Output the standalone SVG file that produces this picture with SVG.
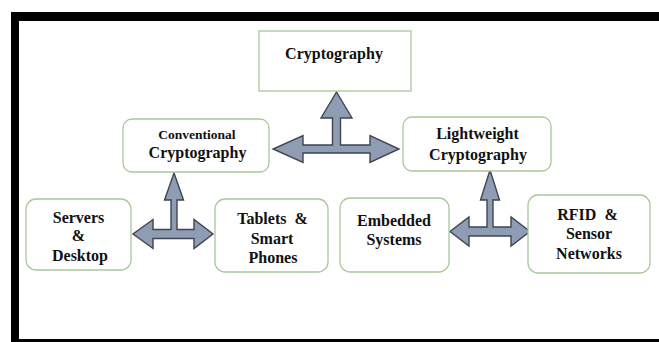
<svg xmlns="http://www.w3.org/2000/svg" width="659" height="342" viewBox="0 0 659 342">
  <style>
    .box { fill: #ffffff; stroke: #a9c79b; stroke-width: 1.3; }
    .lbl { font-family: 'Liberation Serif', 'DejaVu Serif', serif; font-weight: 700; font-size: 16px; fill: #111111; text-anchor: middle; }
    .small { font-size: 13.5px; }
    .arrow { fill: #8e9cb4; stroke: #3f4450; stroke-width: 1.4; stroke-linejoin: miter; }
  </style>

  <!-- page background and black frame -->
  <rect x="0" y="0" width="659" height="342" fill="#ffffff"/>
  <rect x="11" y="12" width="648" height="9" fill="#000000"/>
  <rect x="11" y="12" width="8" height="330" fill="#000000"/>
  <rect x="11" y="339" width="648" height="3" fill="#000000"/>

  <!-- connectors: three-way block arrows -->
  <g id="connectors">
    <path class="arrow" d="M336.5,92 L352,118 L340.5,118 L340.5,145 L370,145 L370,135.5 L399,149 L370,162.5 L370,153 L303,153 L303,162.5 L273,149 L303,135.5 L303,145 L332.5,145 L332.5,118 L321,118 Z"/>
    <path class="arrow" d="M174,173 L183.5,200 L177,200 L177,229.5 L194,229.5 L194,219.5 L213,234 L194,248.5 L194,238.5 L153,238.5 L153,248.5 L133,234 L153,219.5 L153,229.5 L171,229.5 L171,200 L164.5,200 Z"/>
    <path class="arrow" d="M490,170 L499.5,200 L493,200 L493,227 L511,227 L511,217 L530,231.5 L511,246 L511,236 L469,236 L469,246 L450,231.5 L469,217 L469,227 L487,227 L487,200 L480.5,200 Z"/>
  </g>

  <g id="cryptography">
    <rect class="box" x="259" y="31" width="152" height="60"/>
    <text class="lbl" x="334" y="59" font-family="Liberation Serif, serif">Cryptography</text>
  </g>

  <g id="conventional">
    <rect class="box" x="123" y="119" width="146" height="53" rx="9"/>
    <text class="lbl small" x="197" y="139">Conventional</text>
    <text class="lbl" x="197.5" y="157.5">Cryptography</text>
  </g>

  <g id="lightweight">
    <rect class="box" x="403" y="117" width="148" height="54" rx="9"/>
    <text class="lbl" x="477.5" y="139">Lightweight</text>
    <text class="lbl" x="478" y="160">Cryptography</text>
  </g>

  <g id="servers">
    <rect class="box" x="26" y="199" width="105" height="71" rx="10"/>
    <text class="lbl" x="78.5" y="222.5">Servers</text>
    <text class="lbl" x="78.5" y="241">&amp;</text>
    <text class="lbl" x="80" y="261">Desktop</text>
  </g>

  <g id="tablets">
    <rect class="box" x="215" y="199" width="113" height="73" rx="10"/>
    <text class="lbl" x="272.5" y="223.5" xml:space="preserve">Tablets  &amp;</text>
    <text class="lbl" x="272" y="243.5">Smart</text>
    <text class="lbl" x="273" y="263">Phones</text>
  </g>

  <g id="embedded">
    <rect class="box" x="340" y="198" width="109" height="74" rx="10"/>
    <text class="lbl" x="394" y="226">Embedded</text>
    <text class="lbl" x="394" y="245">Systems</text>
  </g>

  <g id="rfid">
    <rect class="box" x="528" y="195" width="122" height="78" rx="10"/>
    <text class="lbl" x="587.5" y="219.5" xml:space="preserve">RFID  &amp;</text>
    <text class="lbl" x="589" y="239">Sensor</text>
    <text class="lbl" x="589" y="258.5">Networks</text>
  </g>
</svg>
